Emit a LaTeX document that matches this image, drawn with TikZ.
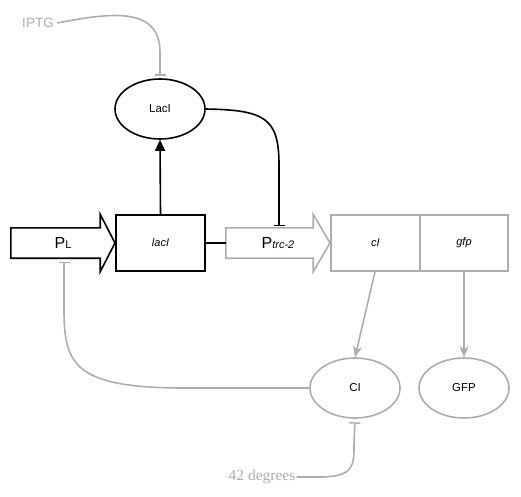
\documentclass[tikz,border=0pt]{standalone}
\usepackage{fontspec}
\setmainfont{Liberation Sans}
\newfontfamily\serifface{Liberation Serif}
\usetikzlibrary{arrows.meta,shapes.geometric,calc}
\definecolor{lgray}{HTML}{ADADAD}
\begin{document}
\begin{tikzpicture}[x=1pt,y=-1pt,
  blk/.style={draw=black,line width=1.6pt},
  gry/.style={draw=lgray,line width=1.6pt},
  genebox/.style={rectangle,minimum width=89pt,minimum height=56pt,inner sep=0pt},
  body/.style={rectangle,minimum height=30pt,inner sep=0pt},
  prot/.style={ellipse,minimum width=90pt,minimum height=60pt,inner sep=0pt,font=\fontsize{11.5}{12}\selectfont},
  inh/.style={-{Bar[width=11pt,line width=1.4pt]}},
  act/.style={-{Stealth[length=11pt,width=9pt,inset=3pt]}},
]
\useasboundingbox (0,0) rectangle (521,496);
% promoter bodies (invisible anchors) and arrow outlines
\node[body,minimum width=89pt] (pl) at (55.5,243) {};
\node[body,minimum width=87pt] (ptrc) at (269.5,243) {};
\coordinate (pltip) at (115,243);
\coordinate (ptrctip) at (330,243);
\draw[blk,line join=miter] (pl.south west) -- (pl.north west) -- (pl.north east) -- ++(0,-13.5) -- (pltip) -- ($(pl.south east)+(0,13.5)$) -- (pl.south east) -- cycle;
\draw[gry,line join=miter] (ptrc.south west) -- (ptrc.north west) -- (ptrc.north east) -- ++(0,-13.5) -- (ptrctip) -- ($(ptrc.south east)+(0,13.5)$) -- (ptrc.south east) -- cycle;
\node (pllabel) at (63,243) {\fontsize{16}{16}\selectfont P\fontsize{11}{11}\selectfont L};
\node (ptrclabel) at (278,243) {\fontsize{16}{16}\selectfont P\fontsize{11}{11}\selectfont\itshape trc-2};
% gene boxes
\node[genebox,blk,font=\fontsize{11}{11}\selectfont\itshape] (lacIbox) at (160.5,243) {lacI};
\node[genebox,gry,font=\fontsize{11}{11}\selectfont\itshape] (cIbox) at (375.5,243) {cI};
\node[genebox,gry,minimum width=88pt,font=\fontsize{11}{11}\selectfont\itshape] (gfpbox) at (464,243) {gfp};
% proteins
\node[prot,blk] (LacI) at (160,109) {LacI};
\node[prot,gry] (CI) at (355,388) {CI};
\node[prot,gry] (GFP) at (464,388) {GFP};
% inputs
\node[text=lgray,font=\fontsize{13.5}{14}\selectfont] (iptg) at (38,23) {IPTG};
\node[text=lgray,font=\serifface\fontsize{15.5}{16}\selectfont,inner sep=1pt] (deg) at (262,477) {42 degrees};
% connectors
\coordinate (tb1) at (279,226);
\coordinate (tb2) at (64,262);
\draw[blk,-{Triangle[length=11pt,width=10pt]}] (lacIbox.north) -- (LacI.south);
\draw[blk] (lacIbox.east) -- (ptrc.west);
\draw[blk,inh] (LacI.east) .. controls (265,110) and (279,118) .. (279,165) -- (tb1);
\draw[gry,inh,shorten >=2.5pt] (iptg.east) .. controls (105,14) and (160,4) .. (160,52) -- (LacI.north);
\draw[gry,act] (cIbox.south -| 375,0) -- (CI.north);
\draw[gry,act] (gfpbox.south) -- (GFP.north);
\draw[gry,inh] (CI.west) -- (185,388) .. controls (75,388) and (64,365) .. (64,310) -- (tb2);
\draw[gry,inh,shorten >=3.5pt] (deg.east) -- (320,477) .. controls (354,477) and (354,465) .. (354,445) -- (CI.south);
\end{tikzpicture}
\end{document}
